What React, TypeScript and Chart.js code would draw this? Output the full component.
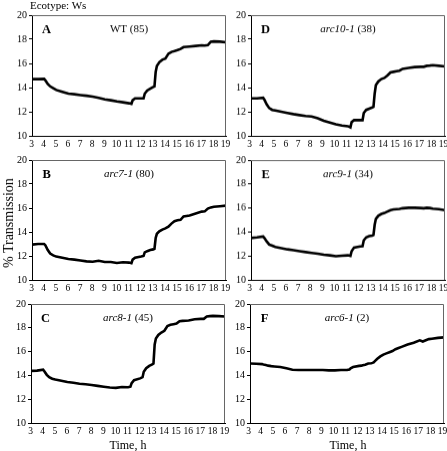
import React, { useEffect, useRef } from "react";
import { Chart, registerables } from "chart.js";

Chart.register(...registerables);

const time = [3, 3.5, 4, 4.1, 4.3, 4.5, 4.75, 5, 5.5, 6, 6.5, 7, 7.5, 8, 8.5, 9, 9.5, 10, 10.5, 11, 11.2, 11.3, 11.5, 12, 12.2, 12.3, 12.5, 12.75, 13, 13.1, 13.2, 13.3, 13.5, 13.75, 14, 14.25, 14.5, 14.75, 15, 15.25, 15.5, 16, 16.5, 17, 17.25, 17.5, 17.75, 18, 18.5, 19];

const wtValues = [14.7, 14.7, 14.72, 14.6, 14.3, 14.1, 13.95, 13.8, 13.65, 13.5, 13.45, 13.38, 13.32, 13.25, 13.15, 13.02, 12.95, 12.85, 12.78, 12.7, 12.65, 12.95, 13.1, 13.1, 13.1, 13.5, 13.75, 13.9, 14.05, 14.1, 15.3, 15.8, 16.1, 16.3, 16.4, 16.8, 16.95, 17.02, 17.1, 17.2, 17.35, 17.4, 17.45, 17.5, 17.48, 17.52, 17.8, 17.82, 17.8, 17.75];
const arc7Values = [12.95, 13.0, 13.0, 12.9, 12.5, 12.2, 12.05, 11.95, 11.85, 11.75, 11.7, 11.62, 11.55, 11.52, 11.6, 11.5, 11.5, 11.42, 11.48, 11.45, 11.4, 11.7, 11.85, 11.95, 12.0, 12.3, 12.4, 12.5, 12.55, 12.6, 13.5, 13.85, 14.05, 14.2, 14.3, 14.45, 14.7, 14.9, 14.98, 15.02, 15.3, 15.38, 15.55, 15.7, 15.72, 15.95, 16.05, 16.1, 16.15, 16.2];
const arc8Values = [14.38, 14.4, 14.48, 14.35, 14.05, 13.85, 13.72, 13.65, 13.55, 13.45, 13.38, 13.3, 13.25, 13.2, 13.12, 13.05, 12.98, 12.95, 13.02, 13.0, 13.05, 13.35, 13.6, 13.75, 13.85, 14.3, 14.6, 14.8, 14.92, 15.0, 16.6, 17.1, 17.4, 17.6, 17.75, 18.15, 18.25, 18.3, 18.35, 18.55, 18.58, 18.62, 18.72, 18.75, 18.75, 18.95, 18.98, 19.0, 18.98, 18.95];
const arc10Values = [13.1, 13.1, 13.15, 13.0, 12.6, 12.3, 12.15, 12.1, 12.0, 11.9, 11.8, 11.72, 11.65, 11.6, 11.45, 11.25, 11.1, 10.95, 10.85, 10.8, 10.7, 11.15, 11.3, 11.3, 11.3, 11.9, 12.15, 12.25, 12.35, 12.4, 13.5, 14.2, 14.5, 14.7, 14.8, 15.0, 15.25, 15.3, 15.35, 15.4, 15.55, 15.62, 15.7, 15.72, 15.72, 15.8, 15.82, 15.85, 15.8, 15.75];
const arc9Values = [13.5, 13.55, 13.62, 13.5, 13.2, 12.95, 12.85, 12.75, 12.65, 12.55, 12.48, 12.4, 12.32, 12.25, 12.18, 12.1, 12.05, 11.98, 12.02, 12.05, 12.0, 12.4, 12.7, 12.8, 12.82, 13.3, 13.55, 13.65, 13.7, 13.75, 14.6, 15.1, 15.35, 15.5, 15.58, 15.7, 15.82, 15.88, 15.9, 15.92, 15.98, 16.02, 16.02, 16.0, 15.98, 16.02, 16.0, 15.95, 15.9, 15.82];
const arc6Values = [15.0, 14.98, 14.95, 14.92, 14.88, 14.82, 14.78, 14.75, 14.7, 14.6, 14.48, 14.45, 14.45, 14.45, 14.45, 14.45, 14.42, 14.42, 14.45, 14.45, 14.5, 14.6, 14.7, 14.8, 14.82, 14.85, 14.9, 15.0, 15.02, 15.05, 15.1, 15.2, 15.4, 15.6, 15.75, 15.85, 15.95, 16.05, 16.2, 16.3, 16.4, 16.6, 16.75, 16.95, 16.85, 16.95, 17.05, 17.08, 17.15, 17.2];

const panelLetters = ["A", "B", "C", "D", "E", "F"];
const panelNames = ["WT", "arc7-1", "arc8-1", "arc10-1", "arc9-1", "arc6-1"];
const panelCounts = ["(85)", "(80)", "(45)", "(38)", "(34)", "(2)"];
const panelItalic = [false, true, true, true, true, true];
const panelSeries = [wtValues, arc7Values, arc8Values, arc10Values, arc9Values, arc6Values];

const xMin = 3, xMax = 19, yMin = 10, yMax = 20, yStep = 2, xStep = 1;

// chart areas in page pixels: [left, top, right, bottom]
const areas = [
  [31.5, 15, 225.5, 135.5],
  [31.5, 160, 225.5, 280],
  [31, 304, 225, 423],
  [250.5, 15, 444.5, 135.5],
  [250.5, 160, 444.5, 279.5],
  [250, 304, 444, 423],
];

const FONT = "'Liberation Serif', 'Times New Roman', serif";
const M = { left: 36, top: 10, right: 12, bottom: 22 };

function Panel({ idx }: { idx: number }) {
  const ref = useRef<HTMLCanvasElement | null>(null);
  const [l, t, r, b] = areas[idx];
  const w = r - l + M.left + M.right;
  const h = b - t + M.top + M.bottom;
  const rightCol = idx >= 3;
  useEffect(() => {
    const canvas = ref.current!;
    const labelPlugin = {
      id: "panelLabel" + idx,
      afterDraw(chart: any) {
        const { ctx, chartArea, scales } = chart;
        ctx.save();
        ctx.strokeStyle = "#666";
        ctx.lineWidth = 1;
        ctx.beginPath();
        ctx.moveTo(chartArea.left, chartArea.top + 0.5);
        ctx.lineTo(chartArea.right - 0.5, chartArea.top + 0.5);
        ctx.lineTo(chartArea.right - 0.5, chartArea.bottom);
        ctx.stroke();
        const yPix = scales.y.getPixelForValue(18.8);
        ctx.fillStyle = "#000";
        ctx.textBaseline = "middle";
        ctx.textAlign = "center";
        ctx.font = `bold 12.5px ${FONT}`;
        ctx.fillText(panelLetters[idx], scales.x.getPixelForValue(4.2), yPix);
        const nameFont = `${panelItalic[idx] ? "italic " : ""}11px ${FONT}`;
        const cntFont = `11px ${FONT}`;
        const name = panelNames[idx];
        const cnt = " " + panelCounts[idx];
        ctx.font = nameFont;
        const w1 = ctx.measureText(name).width;
        ctx.font = cntFont;
        const w2 = ctx.measureText(cnt).width;
        const cx = scales.x.getPixelForValue(11);
        const x0 = cx - (w1 + w2) / 2;
        ctx.textAlign = "left";
        ctx.font = nameFont;
        ctx.fillText(name, x0, yPix);
        ctx.font = cntFont;
        ctx.fillText(cnt, x0 + w1, yPix);
        ctx.restore();
      },
    };
    const chart = new Chart(canvas, {
      type: "line",
      data: {
        datasets: [
          {
            data: time.map((tt, i) => ({ x: tt, y: panelSeries[idx][i] })),
            borderColor: "#000",
            borderWidth: 2.6,
            pointRadius: 0,
            tension: 0,
            fill: false,
          },
        ],
      },
      options: {
        animation: false,
        responsive: false,
        devicePixelRatio: 1,
        layout: { padding: { left: 0, top: M.top, right: M.right, bottom: 0 } },
        plugins: { legend: { display: false }, tooltip: { enabled: false } },
        scales: {
          x: {
            type: "linear",
            min: xMin,
            max: xMax,
            afterFit: (s: any) => { s.height = M.bottom; },
            ticks: {
              stepSize: xStep,
              autoSkip: false,
              maxRotation: 0,
              color: "#000",
              padding: 3,
              labelOffset: rightCol ? -1.5 : -0.5,
              font: { family: FONT, size: 9.5 },
            },
            grid: { display: false, drawTicks: false },
            border: { display: true, color: "#000", width: 1 },
          },
          y: {
            min: yMin,
            max: yMax,
            afterFit: (s: any) => { s.width = M.left; },
            ticks: {
              stepSize: yStep,
              color: "#000",
              padding: 2,
              font: { family: FONT, size: 10 },
            },
            grid: { display: true, drawOnChartArea: false, drawTicks: true, tickLength: 3, color: "#000" },
            border: { display: true, color: "#000", width: 1 },
          },
        },
      },
      plugins: [labelPlugin],
    });
    return () => chart.destroy();
  }, [idx]);
  return (
    <canvas
      ref={ref}
      width={w}
      height={h}
      style={{ position: "absolute", left: l - M.left, top: t - M.top, width: w, height: h }}
    />
  );
}

export default function App() {
  return (
    <div style={{ position: "fixed", left: 0, top: 0, width: 447, height: 451, overflow: "hidden", background: "#fff", fontFamily: FONT, color: "#000" }}>
      {panelLetters.map((_, i) => (
        <Panel key={i} idx={i} />
      ))}
      <div style={{ position: "absolute", left: 30, top: -1, fontSize: 11, fontWeight: "normal", whiteSpace: "nowrap" }}>Ecotype: Ws</div>
      <div
        style={{
          position: "absolute",
          left: 9,
          top: 223,
          fontSize: 14,
          fontWeight: "normal",
          whiteSpace: "nowrap",
          transform: "translate(-50%, -50%) rotate(-90deg)",
        }}
      >
        % Transmission
      </div>
      <div style={{ position: "absolute", left: 128, top: 445, fontSize: 12, fontWeight: "normal", whiteSpace: "nowrap", transform: "translate(-50%, -50%)" }}>Time, h</div>
      <div style={{ position: "absolute", left: 348, top: 445, fontSize: 12, fontWeight: "normal", whiteSpace: "nowrap", transform: "translate(-50%, -50%)" }}>Time, h</div>
    </div>
  );
}
